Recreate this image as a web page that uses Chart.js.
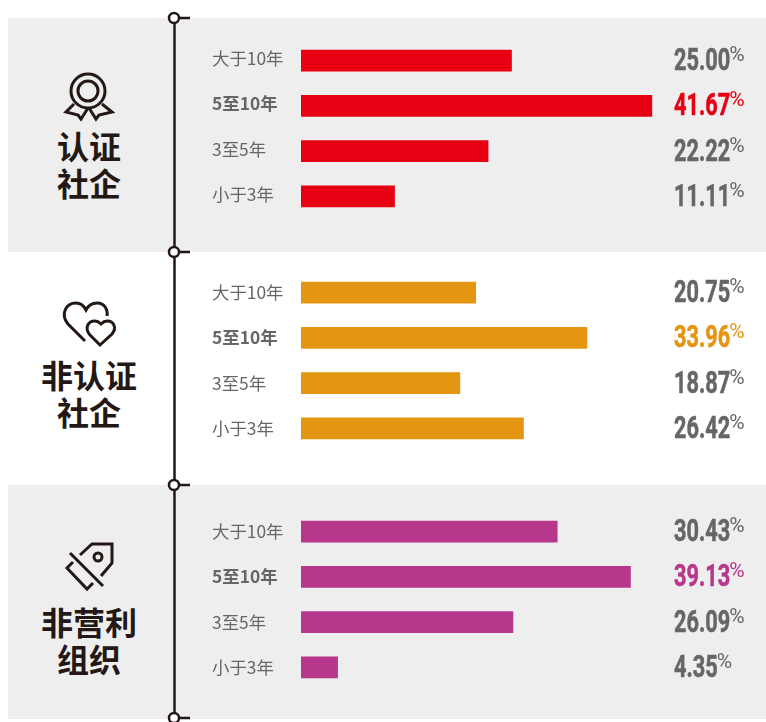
<!DOCTYPE html>
<html lang="zh">
<head>
<meta charset="utf-8">
<title>社企成立年限</title>
<script src="https://cdn.jsdelivr.net/npm/chart.js@4"></script>
<style>
    html, body { margin: 0; padding: 0; background: #fff; }
    #page { position: relative; width: 766px; height: 722px; overflow: hidden; font-family: "Noto Sans CJK SC", sans-serif; }
    .band { position: absolute; left: 8px; width: 758px; background: #eeeeee; }
    .panel-chart { position: absolute; left: 200px; width: 566px; }
    .name { position: absolute; left: 9px; width: 160px; text-align: center; font-size: 32px; font-weight: 700; line-height: 37px; color: #231815; }
    #overlay { position: absolute; left: 0; top: 0; }
</style>
</head>
<body>
<div id="page">
    <div class="band" style="top:18px;height:234px"></div>
    <div class="band" style="top:485px;height:234px"></div>

    <div class="name" style="top:127px">认证<br>社企</div>
    <div class="name" style="top:356px">非认证<br>社企</div>
    <div class="name" style="top:603px">非营利<br>组织</div>

    <canvas class="panel-chart" id="chart-certified" style="top:18px" width="566" height="234"></canvas>
    <canvas class="panel-chart" id="chart-uncertified" style="top:252px" width="566" height="233"></canvas>
    <canvas class="panel-chart" id="chart-nonprofit" style="top:485px" width="566" height="234"></canvas>

    <svg id="overlay" width="766" height="722" fill="none" stroke="#231815">
        <!-- icons -->
        <g stroke-width="3">
            <circle cx="88" cy="91" r="17"/>
            <circle cx="88" cy="91" r="10"/>
            <path d="M74 104 L66 112 L78 115 L81 119 L88 108"/>
            <path d="M102 104 L112 112 L99 115 L96 119 L89 108"/>

            <path d="M85 341 L68 324 C60 314 66 303 76 303 C81 303 84 306 86 310 C88 306 92 303 97 303 C105 303 108 310 107 316"/>
            <path d="M100 345 L90 335 C84 328 88 321 95 321 C98 321 100 323 101 324 C102 323 104 321 107 321 C114 321 117 328 112 334 Z"/>

            <path d="M80 555 L92 544 L112 544 L112 563 L101 576"/>
            <circle cx="98" cy="557" r="4"/>
            <path d="M70 553 L103 586"/>
            <path d="M73 562 L67 568 L87 589 L93 583"/>
        </g>
        <!-- timeline -->
        <path d="M174.5 23 V713" stroke-width="2.5"/>
        <g stroke-width="2.5">
            <path d="M179 18 H190"/><circle cx="174" cy="18" r="5" fill="#fff"/>
            <path d="M179 252 H190"/><circle cx="174" cy="252" r="5" fill="#fff"/>
            <path d="M179 485 H190"/><circle cx="174" cy="485" r="5" fill="#fff"/>
            <path d="M179 718 H190"/><circle cx="174" cy="718" r="5" fill="#fff"/>
        </g>
    </svg>
</div>

<script>
const categories = ['大于10年', '5至10年', '3至5年', '小于3年'];

// bar lengths as drawn; the 3至5年 bar of 非营利组织 is shorter than its printed 26.09
const certifiedValues = [25.00, 41.67, 22.22, 11.11];
const uncertifiedValues = [20.75, 33.96, 18.87, 26.42];
const nonprofitValues = [30.43, 39.13, 25.17, 4.35];

const certifiedLabels = ['25.00', '41.67', '22.22', '11.11'];
const uncertifiedLabels = ['20.75', '33.96', '18.87', '26.42'];
const nonprofitLabels = ['30.43', '39.13', '26.09', '4.35'];

const CJK_FONT = '"Noto Sans CJK SC", sans-serif';
const GREY_TEXT = '#666666';
const HIGHLIGHT_INDEX = 1;

// right column: narrow bold number + small %, highlighted row takes the series colour
const valueLabels = {
    id: 'valueLabels',
    afterDatasetsDraw(chart, args, options) {
        const { ctx, chartArea, scales } = chart;
        const dataset = chart.data.datasets[0];
        const x = chartArea.left + 373;

        ctx.save();
        ctx.textBaseline = 'alphabetic';
        options.labels.forEach((text, i) => {
            const y = scales.y.getPixelForValue(i);
            const color = i === HIGHLIGHT_INDEX ? dataset.backgroundColor : GREY_TEXT;
            ctx.fillStyle = color;
            ctx.strokeStyle = color;

            ctx.save();
            ctx.translate(x, y + 9.5);
            ctx.scale(0.68, 1);
            ctx.font = '700 32px Roboto';
            ctx.lineWidth = 0.6;
            ctx.fillText(text, 0, 0);
            ctx.strokeText(text, 0, 0);
            const numWidth = ctx.measureText(text).width * 0.68;
            ctx.restore();

            ctx.save();
            ctx.translate(x + numWidth - 1, y + 0.5);
            ctx.scale(1.05, 1);
            ctx.font = '400 20px Roboto';
            ctx.fillText('%', 0, 0);
            ctx.restore();
        });
        ctx.restore();
    },
};

function buildPanel(canvasId, values, labels, color, paddingTop, paddingBottom, labelShift) {
    return new Chart(document.getElementById(canvasId), {
        type: 'bar',
        data: {
            labels: categories,
            datasets: [{
                data: values,
                backgroundColor: color,
                barThickness: 21,
                borderWidth: 0,
            }],
        },
        options: {
            indexAxis: 'y',
            responsive: false,
            animation: false,
            layout: { padding: { top: paddingTop, bottom: paddingBottom, left: 12, right: 44 } },
            plugins: {
                legend: { display: false },
                tooltip: { enabled: false },
                valueLabels: { labels },
            },
            scales: {
                x: {
                    display: false,
                    min: 0,
                    max: 50,
                },
                y: {
                    afterFit(scale) { scale.width = 89; },
                    border: { display: false },
                    grid: { display: false },
                    ticks: {
                        color: GREY_TEXT,
                        crossAlign: 'far',
                        padding: 0,
                        labelOffset: labelShift,
                        font: ctx => ({
                            family: CJK_FONT,
                            size: 17.4,
                            weight: ctx.index === HIGHLIGHT_INDEX ? '700' : '400',
                        }),
                    },
                },
            },
        },
        plugins: [valueLabels],
    });
}

buildPanel('chart-certified', certifiedValues, certifiedLabels, '#e60012', 20, 33, -2);
buildPanel('chart-uncertified', uncertifiedValues, uncertifiedLabels, '#e49511', 18, 34, 0);
buildPanel('chart-nonprofit', nonprofitValues, nonprofitLabels, '#b6378c', 24, 29, 0);
</script>
</body>
</html>
